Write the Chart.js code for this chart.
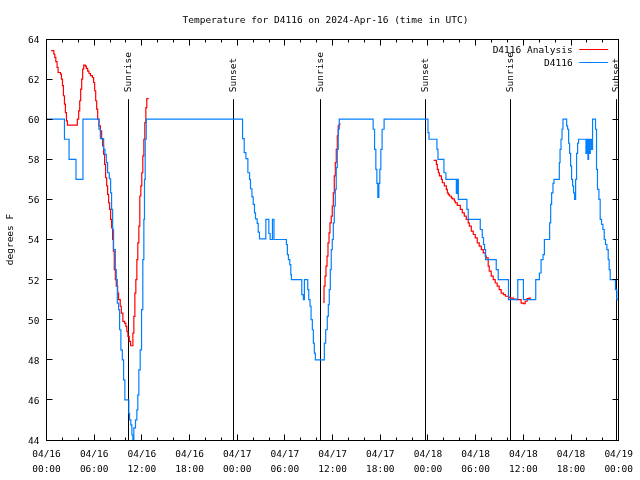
<!DOCTYPE html>
<html><head><meta charset="utf-8">
<script src="https://cdn.jsdelivr.net/npm/chart.js@4"></script>
<style>html,body{margin:0;padding:0;background:#fff}canvas{display:block}</style>
</head><body>
<canvas id="c" width="640" height="480"></canvas>
<script>
const FONT = '"DejaVu Sans Mono", "Liberation Mono", monospace';
const chartTitle = 'Temperature for D4116 on 2024-Apr-16 (time in UTC)';
const yAxisTitle = 'degrees F';
const xTickDates = ['04/16','04/16','04/16','04/16','04/17','04/17','04/17','04/17','04/18','04/18','04/18','04/18','04/19'];
const xTickTimes = ['00:00','06:00','12:00','18:00','00:00','06:00','12:00','18:00','00:00','06:00','12:00','18:00','00:00'];
const yTicks = [44,46,48,50,52,54,56,58,60,62,64];

// hours since 04/16 00:00 UTC
const sunHours  = [10.36, 23.54, 34.45, 47.63, 58.42, 71.77];
const sunLabels = ['Sunrise','Sunset','Sunrise','Sunset','Sunrise','Sunset'];
const sunLineTop = 61;

// D4116 observations
const obsHours = [0,2.26,2.84,3.71,4.59,6.60,6.78,7.19,7.35,7.53,7.69,7.90,8.07,8.19,8.32,8.44,8.66,8.78,8.91,9.07,9.20,9.36,9.54,9.70,9.86,10.36,10.45,10.61,10.74,10.87,10.99,11.20,11.37,11.49,11.62,11.79,11.96,12.12,12.25,12.33,12.42,12.55,
 24.67,24.88,25.09,25.34,25.55,25.67,25.85,26.01,26.17,26.30,26.51,26.64,26.80,27.60,27.98,28.14,28.43,28.62,
 30.19,30.31,30.44,30.61,30.74,30.82,32.12,32.32,32.45,32.87,33.00,33.16,33.29,33.45,33.58,33.70,33.83,
 34.96,35.13,35.33,35.46,35.58,35.71,35.83,35.96,36.09,36.21,36.34,36.46,36.59,36.71,36.84,
 41.10,41.28,41.44,41.57,41.69,41.82,41.94,42.07,42.23,42.48,
 48.00,48.13,49.13,49.26,50.01,50.26,51.57,51.69,51.82,52.90,53.07,54.58,54.83,54.99,55.12,55.25,56.59,56.84,58.13,
 59.30,60.01,61.56,62.02,62.23,62.48,62.65,63.31,63.44,63.56,63.73,63.86,64.53,64.62,64.74,64.87,64.99,65.45,65.57,65.70,65.82,65.95,66.07,66.20,66.32,66.45,66.58,66.70,66.83,66.95,67.88,68.00,68.13,68.21,68.33,68.42,68.58,68.71,69.08,69.21,69.33,69.51,69.67,69.84,70.01,70.18,70.34,70.51,70.68,70.80,70.93,71.59,71.77,71.95];
const obsTemps = [60,59.0,58.0,57.0,60,59.5,59.03,58.5,58.25,57.83,57.33,57.03,56.33,55.5,54.5,53.5,52.5,52.0,50.83,50.5,49.5,48.5,48.0,47.0,46.0,45.33,45.0,44.75,44.25,44.0,44.6,45.0,45.5,46.25,47.5,48.5,50.5,53.0,55.0,57.0,59.0,60,
 59.03,58.33,58.03,57.33,57.0,56.53,56.13,55.75,55.33,55.03,54.8,54.37,54.03,55.0,54.3,54.0,55.0,54.0,
 53.75,53.25,53.0,52.75,52.25,52.0,51.25,51.0,52.0,51.5,51.0,50.67,50.0,49.5,48.83,48.33,48.0,
 48.83,49.5,50.17,50.75,51.5,52.5,53.5,54.0,54.83,55.67,56.5,57.58,58.5,59.5,60,
 59.5,58.5,57.5,56.8,56.1,56.8,57.5,58.5,59.5,60,
 59.33,59.0,58.5,58.0,57.33,57.0,56.3,57.0,56.0,55.5,55.0,54.5,54.1,53.75,53.5,53.0,52.5,52.0,51.0,
 52.0,51.0,52.0,52.33,53.0,53.25,54.0,54.83,55.75,56.33,56.8,57.0,57.83,58.5,59.0,59.5,60,59.67,59.5,58.8,58.3,57.67,57.0,56.67,56.33,56.0,57.0,58.3,58.8,59.0,58.3,59.0,58.0,59.0,58.3,59.0,58.5,60,59.5,57.5,56.5,56.0,55.0,54.75,54.5,54.0,53.75,53.5,53.0,52.5,52.0,51.5,51.0,51.0];

// D4116 Analysis (three separate runs)
const anaHours1 = [0.58,0.92,1.04,1.17,1.33,1.46,1.76,1.88,2.01,2.13,2.26,2.38,2.51,2.63,3.88,4.05,4.18,4.30,4.43,4.55,4.68,4.89,5.02,5.18,5.35,5.52,5.77,5.93,6.06,6.19,6.31,6.44,6.60,6.78,6.94,7.06,7.19,7.31,7.44,7.57,7.69,7.82,7.94,8.07,8.19,8.32,8.41,8.53,8.66,8.78,8.95,9.07,9.28,9.41,9.61,9.82,9.99,10.11,10.24,10.41,10.58,10.87,10.99,11.12,11.24,11.37,11.49,11.62,11.74,11.87,11.99,12.12,12.25,12.37,12.50,12.62,12.87];
const anaTemps1 = [63.42,63.25,63.08,62.87,62.58,62.33,62.25,62.0,61.67,61.17,60.75,60.33,59.92,59.7,60.0,60.42,60.92,61.5,62.0,62.5,62.7,62.65,62.53,62.4,62.28,62.17,62.08,61.83,61.42,60.92,60.5,60.0,59.67,59.42,59.03,58.67,58.25,57.75,57.08,56.67,56.25,55.83,55.5,55.0,54.58,54.0,53.42,52.5,52.0,51.67,51.33,51.0,50.67,50.33,49.92,49.83,49.67,49.42,49.17,48.92,48.7,49.33,50.17,51.33,52.0,53.0,53.83,54.67,56.17,56.67,57.33,58.17,59.0,59.83,60.58,61.03,61.03];
const anaHours2 = [34.79,34.92,35.05,35.17,35.30,35.42,35.55,35.67,35.83,35.96,36.09,36.21,36.34,36.46,36.59,36.71,36.84,37.01];
const anaTemps2 = [50.87,51.67,52.17,52.67,53.17,53.83,54.33,54.83,55.17,55.67,56.33,57.17,57.83,58.5,59.17,59.67,59.75,59.75];
const anaHours3 = [48.72,49.06,49.18,49.31,49.44,49.69,49.81,50.06,50.31,50.44,50.56,50.69,50.94,51.07,51.32,51.44,51.69,52.07,52.32,52.57,52.82,53.07,53.20,53.45,53.70,53.95,54.20,54.45,54.71,54.96,55.21,55.33,55.58,55.71,55.96,56.21,56.46,56.71,56.96,57.21,57.50,57.75,58.12,58.34,58.75,59.17,59.72,60.01,60.23,60.48,60.73,60.98];
const anaTemps3 = [57.95,57.75,57.5,57.33,57.17,57.0,56.83,56.67,56.5,56.33,56.25,56.17,56.08,56.03,55.92,55.83,55.7,55.5,55.33,55.17,55.0,54.83,54.67,54.42,54.25,54.08,53.83,53.67,53.5,53.33,53.17,53.08,52.67,52.42,52.17,52.0,51.83,51.67,51.5,51.33,51.25,51.17,51.13,51.08,51.03,51.0,50.83,50.8,50.92,51.05,51.08,51.08];

function pts(h, t) { return h.map((x, i) => ({x: x, y: t[i]})); }
const gap = (x) => ({x: x, y: null});
const analysisData = [].concat(pts(anaHours1, anaTemps1), [gap(20)], pts(anaHours2, anaTemps2), [gap(42)], pts(anaHours3, anaTemps3));
const obsData = pts(obsHours, obsTemps);

const gnuplotDecor = {
  id: 'gnuplotDecor',
  beforeDatasetsDraw(chart) {
    const {ctx, chartArea: a, scales: {x, y}} = chart;
    ctx.save();
    ctx.strokeStyle = '#000'; ctx.fillStyle = '#000'; ctx.lineWidth = 1;
    ctx.font = '9.5px ' + FONT;
    // title
    ctx.textAlign = 'center'; ctx.textBaseline = 'middle';
    ctx.fillText(chartTitle, chart.width / 2 + 5.5, 20.5);
    const top = y.getPixelForValue(sunLineTop);
    sunHours.forEach((h, i) => {
      const px = Math.floor(x.getPixelForValue(h)) + 0.5;
      ctx.beginPath(); ctx.moveTo(px, top); ctx.lineTo(px, a.bottom); ctx.stroke();
      ctx.save();
      ctx.translate(px + 0.5, top - 7);
      ctx.rotate(-Math.PI / 2);
      ctx.textAlign = 'left'; ctx.textBaseline = 'middle';
      ctx.fillText(sunLabels[i], 0, 0);
      ctx.restore();
    });
    ctx.restore();
  },
  afterDraw(chart) {
    const {ctx, chartArea: a, scales: {x, y}} = chart;
    ctx.save();
    ctx.strokeStyle = '#000'; ctx.lineWidth = 1;
    const L = Math.floor(a.left) + 0.5, R = Math.floor(a.right) + 0.5;
    const T = Math.floor(a.top) + 0.5, B = Math.floor(a.bottom) + 0.5;
    ctx.strokeRect(L, T, R - L, B - T);
    ctx.beginPath();
    for (let h = 2; h < 72; h += 2) {
      const px = Math.floor(x.getPixelForValue(h)) + 0.5;
      const len = (h % 6 === 0) ? 6 : 3;
      ctx.moveTo(px, B); ctx.lineTo(px, B - len);
      ctx.moveTo(px, T); ctx.lineTo(px, T + len);
    }
    yTicks.forEach(v => {
      const py = Math.floor(y.getPixelForValue(v)) + 0.5;
      ctx.moveTo(L, py); ctx.lineTo(L + 6, py);
      ctx.moveTo(R, py); ctx.lineTo(R - 6, py);
    });
    ctx.stroke();
    // legend (gnuplot style: text then sample line)
    ctx.font = '9.5px ' + FONT;
    ctx.textAlign = 'right'; ctx.textBaseline = 'middle'; ctx.fillStyle = '#000';
    chart.data.datasets.forEach((ds, i) => {
      const ry = Math.round(a.top) + 11.5 + i * 13;
      ctx.fillText(ds.label, a.right - 46, ry);
      ctx.strokeStyle = ds.borderColor;
      ctx.beginPath(); ctx.moveTo(a.right - 39.5, ry - 1); ctx.lineTo(a.right - 10.5, ry - 1); ctx.stroke();
    });
    ctx.restore();
  }
};

new Chart(document.getElementById('c'), {
  type: 'line',
  data: {
    datasets: [
      {label: 'D4116 Analysis', data: analysisData, borderColor: '#ff0000', borderWidth: 1.2, pointRadius: 0, stepped: true, spanGaps: false, order: 2},
      {label: 'D4116', data: obsData, borderColor: 'rgb(0,128,255)', borderWidth: 1.2, pointRadius: 0, stepped: true, order: 1}
    ]
  },
  options: {
    responsive: false, animation: false, devicePixelRatio: 1,
    layout: {padding: {left: 0, right: 19.5, top: 39, bottom: 0}},
    plugins: {
      legend: {display: false},
      tooltip: {enabled: false},
      title: {display: false}
    },
    scales: {
      x: {
        type: 'linear', min: 0, max: 72,
        afterFit(s) { s.height = 40; },
        grid: {display: false, drawTicks: false}, border: {display: false},
        ticks: {stepSize: 6, autoSkip: false, maxRotation: 0, minRotation: 0, color: '#000', padding: 7,
          font: {family: FONT, size: 9.5, lineHeight: '15px'},
          callback: (v) => { const k = Math.round(v / 6); return [xTickDates[k], xTickTimes[k]]; }}
      },
      y: {
        min: 44, max: 64,
        afterFit(s) { s.width = 46.5; },
        grid: {display: false, drawTicks: false}, border: {display: false},
        ticks: {stepSize: 2, color: '#000', padding: 7, labelOffset: 1.5, font: {family: FONT, size: 9.5}},
        title: {display: true, text: yAxisTitle, color: '#000', font: {family: FONT, size: 9.5}, padding: {top: 4.8, bottom: 0}}
      }
    }
  },
  plugins: [gnuplotDecor]
});
</script>
</body></html>
